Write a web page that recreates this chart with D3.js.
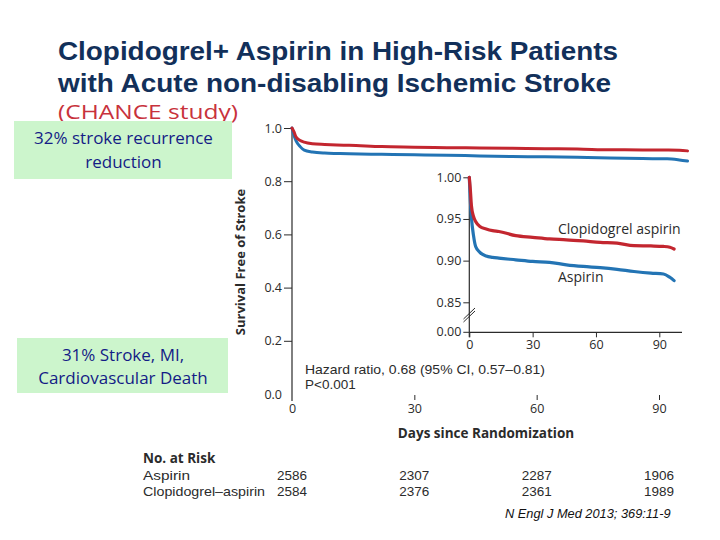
<!DOCTYPE html>
<html>
<head>
<meta charset="utf-8">
<script src="https://cdn.jsdelivr.net/npm/d3@7"></script>
<style>
  html, body { margin: 0; padding: 0; background: #fff; }
  svg { display: block; }
</style>
</head>
<body>
<svg id="chart" width="720" height="540"></svg>
<script>
// ---------- data ----------
const titleLines = ["Clopidogrel+ Aspirin in High-Risk Patients", "with Acute non-disabling Ischemic Stroke"];
const subtitle = "(CHANCE study)";
const seriesNames = ["Clopidogrel aspirin", "Aspirin"];
const days = [0, 0.5, 1, 2, 3, 5, 8, 11, 14, 22, 30, 38, 46, 54, 62, 70, 78, 86, 92, 95, 97];
const clopidogrelAspirin = [1.0, 0.985, 0.966, 0.953, 0.947, 0.941, 0.938, 0.936, 0.935, 0.930, 0.928, 0.926, 0.925, 0.9236, 0.922, 0.921, 0.918, 0.9176, 0.917, 0.916, 0.914];
const aspirin = [1.0, 0.972, 0.952, 0.930, 0.917, 0.910, 0.9056, 0.904, 0.903, 0.901, 0.899, 0.898, 0.895, 0.893, 0.8916, 0.8896, 0.887, 0.885, 0.884, 0.880, 0.876];
const xTicks = [0, 30, 60, 90];
const yTicksMain = [0.0, 0.2, 0.4, 0.6, 0.8, 1.0];
const yTicksInset = [0.85, 0.90, 0.95, 1.00];
const riskRows = ["Aspirin", "Clopidogrel\u2013aspirin"];
const riskAspirin = [2586, 2307, 2287, 1906];
const riskClopAsp = [2584, 2376, 2361, 1989];
const boxTexts = [["32% stroke recurrence", "reduction"], ["31% Stroke, MI,", "Cardiovascular Death"]];
const hazardLines = ["Hazard ratio, 0.68 (95% CI, 0.57\u20130.81)", "P<0.001"];
const citation = "N Engl J Med 2013; 369:11-9";

const RED = "#c3262f", BLUE = "#2374b4", INK = "#2b2b2b";
const svg = d3.select("#chart");
const tickFont = "'Open Sans', 'DejaVu Sans', sans-serif";
const tightFont = "'Liberation Sans', Arial, sans-serif";

// ---------- title ----------
const titleY = [60, 92], titleW = [560, 553];
titleLines.forEach((t, i) => {
  svg.append("text").attr("x", 58).attr("y", titleY[i])
    .attr("font-family", tightFont)
    .attr("font-weight", "bold").attr("font-size", 25)
    .attr("fill", "#12305a")
    .attr("textLength", titleW[i]).attr("lengthAdjust", "spacingAndGlyphs")
    .text(t);
});
svg.append("text").attr("x", 58).attr("y", 119)
  .attr("font-family", tickFont).attr("font-size", 20)
  .attr("fill", "#c8323c")
  .attr("textLength", 180).attr("lengthAdjust", "spacingAndGlyphs")
  .text(subtitle);

// ---------- green boxes ----------
const boxes = [{x: 14, y: 121, w: 218, h: 58, ty: [144, 168]}, {x: 17, y: 338, w: 211, h: 55, ty: [361, 384]}];
boxes.forEach((b, i) => {
  svg.append("rect").attr("x", b.x).attr("y", b.y).attr("width", b.w).attr("height", b.h).attr("fill", "#ccf5cc");
  boxTexts[i].forEach((t, j) => {
    svg.append("text").attr("x", b.x + b.w / 2 + 0.5).attr("y", b.ty[j])
      .attr("text-anchor", "middle")
      .attr("font-family", tickFont).attr("font-size", 17)
      .attr("fill", "#141c86").text(t);
  });
});

// ---------- main chart ----------
const x = d3.scaleLinear().domain([0, 90]).range([292, 659]);
const y = d3.scaleLinear().domain([0, 1]).range([394, 128]);

const yAxis = d3.axisLeft(y).tickValues(yTicksMain).tickFormat(d3.format(".1f")).tickSize(8).tickPadding(2);
const gy = svg.append("g").attr("transform", "translate(292,0)").call(yAxis);
gy.select(".domain").remove();
gy.selectAll(".tick line").attr("stroke", INK).filter(d => d === 0).remove();
gy.selectAll(".tick text").attr("font-family", tickFont).attr("font-size", 12.5).attr("fill", INK);
svg.append("line").attr("x1", 292).attr("x2", 292).attr("y1", y(1)).attr("y2", 401).attr("stroke", INK).attr("stroke-width", 1.2);

const xAxis = d3.axisBottom(x).tickValues(xTicks).tickFormat(d3.format("d")).tickSize(5).tickPadding(4);
const gx = svg.append("g").attr("transform", "translate(0,395)").call(xAxis);
gx.select(".domain").remove();
gx.selectAll(".tick line").attr("stroke", INK).filter(d => d === 0).remove();
gx.selectAll(".tick text").attr("font-family", tickFont).attr("font-size", 12.5).attr("fill", INK);

const pts = (vals) => days.map((d, i) => [d, vals[i]]);
const mainLine = d3.line().x(d => x(d[0])).y(d => y(d[1])).curve(d3.curveMonotoneX);
svg.append("path").attr("d", mainLine(pts(aspirin))).attr("fill", "none").attr("stroke", BLUE).attr("stroke-width", 3).attr("stroke-linecap", "round");
svg.append("path").attr("d", mainLine(pts(clopidogrelAspirin))).attr("fill", "none").attr("stroke", RED).attr("stroke-width", 3).attr("stroke-linecap", "round");

// axis titles
svg.append("text").attr("transform", "translate(245,262) rotate(-90)")
  .attr("text-anchor", "middle").attr("font-family", tickFont).attr("font-weight", "bold")
  .attr("font-size", 13).attr("fill", INK).text("Survival Free of Stroke");
svg.append("text").attr("x", 486).attr("y", 438).attr("text-anchor", "middle")
  .attr("font-family", tickFont).attr("font-weight", "bold").attr("font-size", 13.5)
  .attr("fill", INK).text("Days since Randomization");

// hazard text
hazardLines.forEach((t, i) => {
  svg.append("text").attr("x", 305).attr("y", [373.5, 389][i])
    .attr("font-family", tightFont).attr("font-size", 13.5).attr("fill", INK)
    .attr("textLength", i === 0 ? 240 : null).attr("lengthAdjust", "spacingAndGlyphs").text(t);
});

// ---------- inset ----------
const xi = d3.scaleLinear().domain([0, 90]).range([469.3, 659.3]);
const yi = d3.scaleLinear().domain([0.85, 1.0]).range([302.3, 177.3]);
const yZeroInset = 332.3;

const yiAxis = d3.axisLeft(yi).tickValues(yTicksInset).tickFormat(d3.format(".2f")).tickSize(6).tickPadding(2);
const giy = svg.append("g").attr("transform", "translate(469.3,0)").call(yiAxis);
giy.select(".domain").remove();
giy.selectAll(".tick line").attr("stroke", INK);
giy.selectAll(".tick text").attr("font-family", tickFont).attr("font-size", 12.5).attr("fill", INK);
// zero tick (below the axis break)
svg.append("line").attr("x1", 463.3).attr("x2", 469.3).attr("y1", yZeroInset).attr("y2", yZeroInset).attr("stroke", INK);
svg.append("text").attr("x", 461.3).attr("y", yZeroInset).attr("dy", "0.32em").attr("text-anchor", "end")
  .attr("font-family", tickFont).attr("font-size", 12.5).attr("fill", INK).text(d3.format(".2f")(0));
svg.append("line").attr("x1", 469.3).attr("x2", 469.3).attr("y1", yi(1)).attr("y2", yZeroInset + 5).attr("stroke", INK).attr("stroke-width", 1.2);
// break marks
[0, 3].forEach(o => {
  svg.append("line").attr("x1", 463.5).attr("y1", 322 - o).attr("x2", 475).attr("y2", 311 - o)
    .attr("stroke", INK).attr("stroke-width", 1);
});
svg.append("line").attr("x1", 469.3).attr("x2", 682).attr("y1", yZeroInset).attr("y2", yZeroInset).attr("stroke", INK).attr("stroke-width", 1.2);
const xiAxis = d3.axisBottom(xi).tickValues(xTicks).tickFormat(d3.format("d")).tickSize(5).tickPadding(3);
const gix = svg.append("g").attr("transform", `translate(0,${yZeroInset})`).call(xiAxis);
gix.select(".domain").remove();
gix.selectAll(".tick line").attr("stroke", INK);
gix.selectAll(".tick text").attr("font-family", tickFont).attr("font-size", 12.5).attr("fill", INK);

const insetLine = d3.line().x(d => xi(d[0])).y(d => yi(d[1])).curve(d3.curveMonotoneX);
svg.append("path").attr("d", insetLine(pts(aspirin))).attr("fill", "none").attr("stroke", BLUE).attr("stroke-width", 3.2).attr("stroke-linecap", "round");
svg.append("path").attr("d", insetLine(pts(clopidogrelAspirin))).attr("fill", "none").attr("stroke", RED).attr("stroke-width", 3.2).attr("stroke-linecap", "round");

svg.append("text").attr("x", 558).attr("y", 234).attr("font-family", tickFont).attr("font-size", 14).attr("fill", INK).text(seriesNames[0]);
svg.append("text").attr("x", 558).attr("y", 282).attr("font-family", tickFont).attr("font-size", 14).attr("fill", INK).text(seriesNames[1]);

// ---------- number at risk ----------
svg.append("text").attr("x", 143).attr("y", 463).attr("font-family", tickFont).attr("font-weight", "bold")
  .attr("font-size", 13.5).attr("fill", INK).text("No. at Risk");
[riskAspirin, riskClopAsp].forEach((row, r) => {
  const yy = [479.5, 495.5][r];
  svg.append("text").attr("x", 143).attr("y", yy).attr("font-family", tightFont).attr("font-size", 13.5).attr("fill", INK)
    .attr("textLength", r === 1 ? 122 : 47).attr("lengthAdjust", "spacingAndGlyphs").text(riskRows[r]);
  row.forEach((v, i) => {
    svg.append("text").attr("x", x(xTicks[i])).attr("y", yy).attr("text-anchor", "middle")
      .attr("font-family", tightFont).attr("font-size", 13.5).attr("fill", INK).text(v);
  });
});

// ---------- citation ----------
svg.append("text").attr("x", 505).attr("y", 518).attr("font-family", tightFont)
  .attr("font-style", "italic").attr("font-size", 12.8).attr("fill", "#111").text(citation);
</script>
</body>
</html>
